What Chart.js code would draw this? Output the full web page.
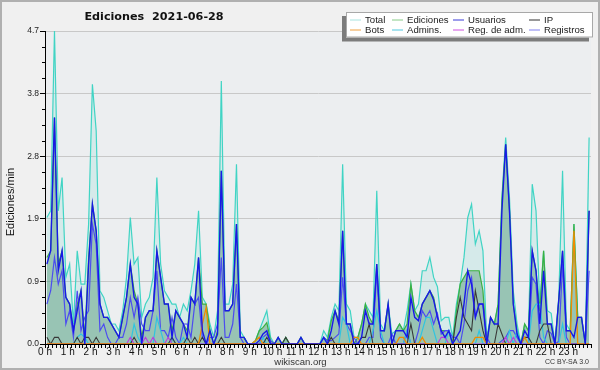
<!DOCTYPE html>
<html><head><meta charset="utf-8">
<script src="https://cdn.jsdelivr.net/npm/chart.js@4"></script>
<style>html,body{margin:0;padding:0;background:#f0f0f0}canvas{display:block}</style>
</head><body>
<canvas id="c" width="600" height="370" style="width:600px;height:370px"></canvas>
<script>
const chartTitle = 'Ediciones  2021-06-28';
const yAxisTitle = 'Ediciones/min';
const hourLabels = ['0 h','1 h','2 h','3 h','4 h','5 h','6 h','7 h','8 h','9 h','10 h','11 h','12 h','13 h','14 h','15 h','16 h','17 h','18 h','19 h','20 h','21 h','22 h','23 h'];
const yTickValues = [0, 0.94, 1.88, 2.82, 3.76, 4.7];
const seriesNames = ['Total','Ediciones','Usuarios','IP','Bots','Admins.','Reg. de adm.','Registros'];

// values per 10 minutes (144 slots)
const total = [
1.9,2.0,4.7,2.0,2.5,1.0, 1.2,0.3,1.4,0.9,0.9,1.8, 3.9,3.2,0.8,0.7,0.5,0.3, 0.3,0.2,0.5,1.0,1.9,1.2,
1.3,0.4,0.6,0.7,1.0,2.5, 1.2,0.8,0.7,0.6,0.6,0.4, 0.6,0.5,0.8,1.2,2.0,0.7, 0.6,0.3,0.1,0.5,3.95,0.6,
0.6,0.9,2.7,0.2,0.1,0.0, 0.0,0.05,0.2,0.35,0.5,0.1, 0.0,0.1,0.0,0.1,0.0,0.0, 0.0,0.1,0.0,0.0,0.0,0.0,
0.0,0.2,0.1,0.4,0.6,0.5, 2.7,0.6,0.5,0.1,0.1,0.3, 0.6,0.5,0.4,2.3,0.3,0.2, 0.6,0.15,0.2,0.3,0.2,0.5,
0.9,0.5,0.6,1.1,1.1,1.3, 1.0,0.86,0.35,0.4,0.4,0.1, 0.6,0.9,1.3,1.9,2.1,1.5, 1.7,1.4,0.1,0.4,0.3,0.6,
2.2,3.1,2.2,0.8,0.3,0.0, 0.3,0.2,2.4,2.0,0.6,1.4, 0.5,0.46,0.0,0.7,2.6,0.3, 0.2,1.8,0.4,0.4,0.0,3.1];
const ediciones = [
1.3,1.4,3.4,1.2,1.4,0.7, 0.6,0.2,0.6,0.8,0.1,1.3, 2.1,1.7,0.6,0.4,0.4,0.3, 0.2,0.1,0.4,0.7,1.2,0.8,
0.6,0.1,0.4,0.5,0.5,1.4, 1.0,0.6,0.6,0.2,0.5,0.4, 0.3,0.2,0.7,0.6,1.3,0.6, 0.6,0.2,0.0,0.2,2.6,0.5,
0.5,0.6,1.8,0.1,0.1,0.0, 0.0,0.05,0.2,0.25,0.32,0.05, 0.0,0.1,0.0,0.1,0.0,0.0, 0.0,0.1,0.0,0.0,0.0,0.0,
0.0,0.1,0.05,0.35,0.5,0.35, 1.7,0.3,0.3,0.0,0.1,0.3, 0.6,0.4,0.3,1.2,0.2,0.2, 0.6,0.0,0.2,0.3,0.2,0.3,
0.9,0.5,0.4,0.6,0.7,0.8, 0.7,0.4,0.2,0.2,0.2,0.0, 0.5,0.9,1.0,1.1,1.1,1.1, 1.1,0.8,0.0,0.4,0.3,0.6,
2.15,3.0,2.0,0.6,0.2,0.0, 0.3,0.2,1.4,1.1,0.5,1.4, 0.3,0.3,0.0,0.66,1.4,0.2, 0.2,1.8,0.4,0.4,0.0,2.0];
const usuarios = [
1.2,1.4,3.4,1.1,1.4,0.7, 0.6,0.2,0.5,0.8,0.0,1.2, 2.1,1.7,0.6,0.4,0.4,0.3, 0.2,0.1,0.4,0.7,1.2,0.7,
0.6,0.0,0.4,0.5,0.5,1.4, 1.0,0.6,0.6,0.1,0.5,0.4, 0.3,0.1,0.7,0.6,1.3,0.2, 0.0,0.2,0.0,0.15,2.6,0.5,
0.5,0.6,1.8,0.1,0.1,0.0, 0.0,0.0,0.05,0.15,0.2,0.0, 0.0,0.1,0.0,0.0,0.0,0.0, 0.0,0.1,0.0,0.0,0.0,0.0,
0.0,0.1,0.0,0.2,0.5,0.3, 1.7,0.3,0.3,0.0,0.0,0.1, 0.5,0.3,0.3,1.2,0.2,0.2, 0.6,0.0,0.2,0.2,0.2,0.1,
0.7,0.4,0.35,0.6,0.7,0.8, 0.66,0.4,0.2,0.1,0.2,0.0, 0.1,0.2,0.6,1.1,0.9,0.4, 0.6,0.6,0.0,0.4,0.3,0.3,
2.0,3.0,2.0,0.6,0.15,0.0, 0.2,0.1,1.4,1.1,0.3,1.1, 0.3,0.3,0.0,0.66,1.4,0.2, 0.2,0.1,0.4,0.4,0.0,2.0];
const ip = [
0.1,0,0.1,0.1,0,0, 0,0,0.1,0,0.1,0.1, 0,0.1,0,0,0,0, 0,0,0,0,0,0.1,
0,0,0,0,0,0, 0,0,0,0.1,0,0, 0,0.1,0,0.1,0,0.1, 0,0,0,0,0.1,0,
0,0,0,0,0,0, 0,0,0,0,0.1,0, 0,0,0,0.1,0,0, 0,0,0,0,0,0,
0,0,0,0.1,0,0, 0,0,0,0,0,0.1, 0.1,0.3,0,0,0,0, 0,0,0,0,0,0,
0.3,0,0,0,0,0, 0,0,0,0,0,0, 0.4,0.7,0.4,0.3,0.2,0.8, 0.5,0.2,0,0,0,0.3,
0.15,0,0,0,0,0, 0.1,0.1,0,0,0.2,0.3, 0.3,0,0,0,0,0, 0,0,0,0,0,0];
const bots = [
0,0,0,0,0,0, 0,0,0,0,0,0, 0,0,0,0,0,0, 0,0,0,0,0,0,
0,0,0,0,0,0, 0,0,0,0,0,0, 0,0,0,0,0,0.3, 0.55,0,0,0,0,0,
0,0,0,0,0,0, 0,0.05,0.1,0,0,0, 0,0,0,0,0,0, 0,0,0,0,0,0,
0,0,0,0,0,0, 0,0,0,0.1,0.1,0, 0,0,0,0,0,0, 0,0,0,0.1,0.1,0,
0,0,0,0.1,0,0, 0,0,0,0,0,0, 0,0,0,0,0,0.1, 0.1,0.1,0,0,0,0,
0,0,0,0,0,0, 0.1,0,0,0,0,0, 0,0,0,0,0,0, 0,1.7,0,0,0,0];
const admins = [
0,0,0,0,0,0, 0,0,0.1,0.15,0.1,0, 0,0,0,0,0,0, 0,0,0,0,0,0.3,
0.1,0,0,0,0,0.4, 0.2,0,0,0.1,0,0, 0.1,0,0,0,0,0, 0,0,0,0,0,0,
0,0,0,0,0,0, 0,0,0,0.1,0,0, 0,0,0,0,0,0, 0,0,0,0,0,0,
0,0.1,0,0,0,0, 0.4,0.3,0,0,0,0, 0,0,0.2,0.5,0.2,0, 0,0,0,0,0,0.2,
0,0,0,0.2,0.4,0.4, 0.2,0,0,0,0.2,0, 0,0,0,0,0,0, 0.2,0,0,0,0,0,
0,0,0.2,0,0.2,0, 0,0,0.5,0.6,0.6,0.1, 0,0,0,0,0.3,0, 0,0,0,0,0,0];
const regAdm = [
0,0,0,0,0,0, 0,0,0,0,0,0, 0,0,0,0,0,0, 0,0,0,0,0.1,0,
0,0,0.1,0,0.1,0, 0,0,0.1,0,0,0, 0,0,0,0,0,0, 0,0,0,0,0,0,
0,0,0,0,0,0, 0,0,0,0,0,0, 0,0,0,0,0,0, 0,0,0,0,0,0,
0,0,0,0,0,0, 0,0,0,0,0,0, 0,0,0,0,0,0, 0,0,0,0,0,0,
0,0,0,0,0,0, 0,0,0.1,0.1,0,0, 0,0,0,0,0,0, 0,0,0,0,0,0,
0,0.1,0,0.1,0,0, 0,0,0,0,0,0, 0,0,0,0,0,0, 0,0,0,0,0,0];
const registros = [
0.6,0.8,1.3,0.9,1.1,0.3, 0.5,0.1,0.8,0.2,0.4,0.5, 1.8,1.5,0.2,0.3,0.1,0.0, 0.0,0.1,0.1,0.3,0.7,0.4,
0.7,0.3,0.2,0.2,0.5,1.1, 0.2,0.2,0.1,0.4,0.1,0.0, 0.3,0.3,0.1,0.6,0.7,0.1, 0.0,0.1,0.1,0.3,1.3,0.1,
0.1,0.3,0.9,0.1,0,0, 0,0,0,0.1,0.15,0.05, 0,0,0,0,0,0, 0,0,0,0,0,0,
0,0.1,0.05,0.05,0.1,0.15, 1.0,0.3,0.2,0.1,0,0, 0,0.1,0.1,1.1,0.1,0, 0,0.15,0,0,0,0.2,
0,0,0.2,0.5,0.4,0.5, 0.3,0.46,0.15,0.2,0.2,0.1, 0.1,0,0.3,0.8,1.0,0.4, 0.6,0.6,0.1,0,0,0,
0.05,0.1,0.2,0.2,0.1,0, 0,0,1.0,0.9,0.1,0, 0.2,0.16,0,0.04,1.2,0.1, 0,0,0,0,0,1.1];

const lineColors = ['#40d4c4','#3cb040','#1818e8','#383838','#f08c00','#30c4e0','#c038e0','#4c4cf0'];
const legendColors = ['#a8e4e0','#88cc88','#3a3ad8','#333333','#f0a040','#50c8e0','#d050e0','#8080f0'];
const seriesValues = [total, ediciones, usuarios, ip, bots, admins, regAdm, registros];
const drawOrder = [8, 7, 1, 4, 2, 5, 3, 6];
const widths = [1.2, 1.2, 1.4, 1.1, 1.3, 1.2, 1.1, 1.2];
const fills = ['rgba(90,215,200,0.15)', 'rgba(60,140,100,0.40)'];

const datasets = seriesValues.map((arr, k) => ({
  label: seriesNames[k],
  data: arr.map((v, i) => ({x: i + 0.5, y: v})),
  borderColor: lineColors[k],
  borderWidth: widths[k],
  backgroundColor: fills[k] || 'transparent',
  fill: k < 2 ? 'origin' : false,
  pointRadius: 0,
  tension: 0,
  order: drawOrder[k]
}));

const deco = {
  id: 'deco',
  beforeDraw(chart) {
    const {ctx, chartArea: a} = chart;
    ctx.save();
    ctx.fillStyle = '#f0f0f0'; ctx.fillRect(0, 0, 600, 370);
    ctx.strokeStyle = '#b0b0b0'; ctx.lineWidth = 2; ctx.strokeRect(1, 1, 598, 368);
    ctx.fillStyle = '#eceef0'; ctx.fillRect(a.left, a.top, a.right - a.left, a.bottom - a.top);
    ctx.restore();
  },
  afterDraw(chart) {
    const {ctx, chartArea: a} = chart;
    const ys = chart.scales.y;
    ctx.save();
    // minor y ticks
    ctx.strokeStyle = '#000'; ctx.lineWidth = 1;
    for (let k = 1; k < 20; k++) {
      if (k % 4 === 0) continue;
      const y = Math.round(ys.getPixelForValue(k * 0.235)) + 0.5;
      ctx.beginPath(); ctx.moveTo(a.left - 3, y); ctx.lineTo(a.left, y); ctx.stroke();
    }
    // title
    ctx.fillStyle = '#111';
    ctx.font = 'bold 11.2px "DejaVu Sans"';
    ctx.textAlign = 'center'; ctx.textBaseline = 'middle';
    ctx.fillText(chartTitle, 154, 17);
    // y title
    ctx.save();
    ctx.translate(10.5, 202); ctx.rotate(-Math.PI / 2);
    ctx.font = '11px "Liberation Sans"'; ctx.fillStyle = '#111';
    ctx.fillText(yAxisTitle, 0, 0);
    ctx.restore();
    // legend box
    ctx.fillStyle = '#7c7c7c'; ctx.fillRect(342, 16, 247, 25.5);
    ctx.fillStyle = '#ffffff'; ctx.fillRect(346, 12, 247, 25.5);
    ctx.strokeStyle = '#a8a8a8'; ctx.lineWidth = 1; ctx.strokeRect(346.5, 12.5, 246, 24.5);
    const cols = [350, 392, 453, 529];
    const rows = [19.5, 29.5];
    ctx.font = '9.6px "Liberation Sans"'; ctx.textAlign = 'left';
    for (let k = 0; k < 8; k++) {
      const cx = cols[k % 4], cy = rows[Math.floor(k / 4)];
      ctx.strokeStyle = legendColors[k]; ctx.lineWidth = 1;
      ctx.beginPath(); ctx.moveTo(cx, cy + 0.5); ctx.lineTo(cx + 11, cy + 0.5); ctx.stroke();
      ctx.fillStyle = '#222';
      ctx.fillText(chart.data.datasets[k].label, cx + 15, cy + 0.5);
    }
    // footer
    ctx.fillStyle = '#333'; ctx.textAlign = 'center';
    ctx.font = '9.5px "Liberation Sans"';
    ctx.fillText('wikiscan.org', 300.5, 362);
    ctx.textAlign = 'right'; ctx.font = '7px "Liberation Sans"';
    ctx.fillText('CC BY-SA 3.0', 589, 362);
    ctx.restore();
  }
};

new Chart(document.getElementById('c'), {
  type: 'line',
  data: {datasets},
  plugins: [deco],
  options: {
    responsive: false,
    animation: false,
    layout: {padding: {left: 0, top: 31, right: 9, bottom: 0}},
    plugins: {legend: {display: false}, title: {display: false}, tooltip: {enabled: false}},
    scales: {
      x: {
        type: 'linear', min: 0, max: 144,
        afterBuildTicks: s => { s.ticks = Array.from({length: 145}, (_, k) => ({value: k})); },
        afterFit: s => { s.height = 26; },
        ticks: {
          autoSkip: false, maxRotation: 0, padding: -2,
          font: {family: 'Liberation Sans', size: 10}, color: '#111',
          callback: v => (v % 6 === 0 && v < 144) ? hourLabels[v / 6] : ''
        },
        grid: {drawOnChartArea: false, drawTicks: true, tickLength: 4, tickColor: '#000', tickWidth: 1},
        border: {color: '#000', width: 1}
      },
      y: {
        min: 0, max: 4.7,
        afterBuildTicks: s => { s.ticks = yTickValues.map(v => ({value: v})); },
        afterFit: s => { s.width = 45; },
        ticks: {
          padding: 1, font: {family: 'Liberation Sans', size: 8.5}, color: '#222',
          callback: v => v.toFixed(1)
        },
        grid: {
          color: c => (c.tick && c.tick.value === 0) ? 'rgba(0,0,0,0)' : '#c8c8c8',
          tickColor: '#000', tickLength: 5, lineWidth: 1
        },
        border: {color: '#000', width: 1}
      }
    }
  }
});
</script>
</body></html>
